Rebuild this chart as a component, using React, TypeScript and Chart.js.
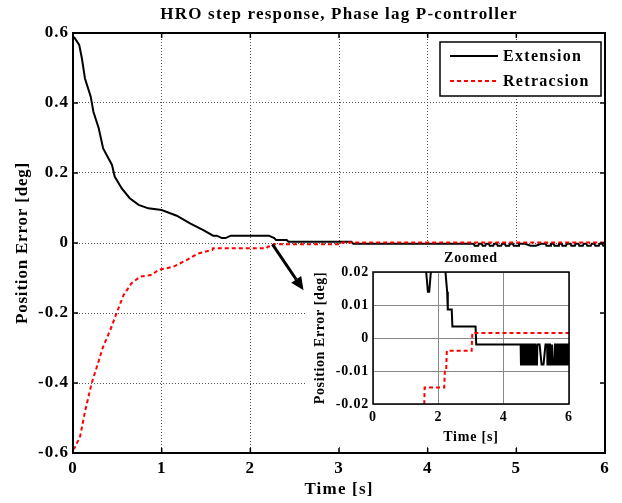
import React, { useEffect, useRef } from 'react';
import { Chart, registerables } from 'chart.js';

Chart.register(...registerables);

// ---------------- data ----------------
const extensionTime = [
  0, 0.02, 0.07, 0.1, 0.135, 0.2, 0.23, 0.29, 0.34, 0.44, 0.47, 0.55, 0.64, 0.74, 0.85, 1.0,
  1.17, 1.32, 1.47, 1.58, 1.62, 1.68, 1.72, 1.78, 2.21, 2.27, 2.29, 2.33, 2.41, 2.43, 3.14,
  3.16, 4.52, 4.53, 4.57, 4.58, 4.61, 4.62, 4.65, 4.66, 4.69, 4.7, 4.74, 4.75, 4.78, 4.79,
  4.83, 4.84, 4.87, 4.88, 4.92, 4.93, 4.96, 4.97, 5.02, 5.03, 5.1, 5.16, 5.22, 5.28, 5.33,
  5.34, 5.38, 5.39, 5.42, 5.43, 5.47, 5.48, 5.51, 5.52, 5.56, 5.57, 5.61, 5.62, 5.66, 5.67,
  5.7, 5.71, 5.75, 5.76, 5.79, 5.8, 5.84, 5.85, 5.88, 5.89, 5.93, 5.94, 5.97, 5.98, 6.0,
];
const extensionError = [
  0.59, 0.585, 0.566, 0.528, 0.47, 0.418, 0.375, 0.328, 0.27, 0.223, 0.19, 0.156, 0.128, 0.109, 0.099, 0.094,
  0.078, 0.056, 0.037, 0.021, 0.021, 0.014, 0.014, 0.021, 0.021, 0.014, 0.0086, 0.0086, 0.0086, 0.0035, 0.0035,
  -0.002, -0.002, -0.008, -0.008, -0.002, -0.002, -0.008, -0.008, -0.002, -0.002, -0.008, -0.008, -0.002, -0.002, -0.008,
  -0.008, -0.002, -0.002, -0.008, -0.008, -0.002, -0.002, -0.008, -0.008, -0.002, -0.002, -0.008, -0.008, -0.002, -0.002,
  -0.008, -0.008, -0.002, -0.002, -0.008, -0.008, -0.002, -0.002, -0.008, -0.008, -0.002, -0.002, -0.008, -0.008, -0.002,
  -0.002, -0.008, -0.008, -0.002, -0.002, -0.008, -0.008, -0.002, -0.002, -0.008, -0.008, -0.002, -0.002, -0.008, -0.008,
];

const retractionTime = [
  0, 0.02, 0.08, 0.135, 0.21, 0.27, 0.34, 0.42, 0.49, 0.57, 0.66, 0.76, 0.89, 0.96, 1.13, 1.28,
  1.4, 1.545, 1.57, 1.58, 2.18, 2.2, 2.24, 2.26, 3.02, 3.04, 6.0,
];
const retractionError = [
  -0.59, -0.585, -0.553, -0.482, -0.401, -0.353, -0.296, -0.249, -0.201, -0.149, -0.115, -0.096, -0.091, -0.077, -0.068, -0.049,
  -0.031, -0.021, -0.02, -0.015, -0.015, -0.0099, -0.0099, -0.0039, -0.0039, 0.0015, 0.0015,
];

const seriesLabels = ['Extension', 'Retracsion'];

const mainXTicks = [0, 1, 2, 3, 4, 5, 6];
const mainXLabels = ['0', '1', '2', '3', '4', '5', '6'];
const mainYTicks = [-0.6, -0.4, -0.2, 0, 0.2, 0.4, 0.6];
const mainYLabels = ['-0.6', '-0.4', '-0.2', '0', '0.2', '0.4', '0.6'];

const insetXTicks = [0, 2, 4, 6];
const insetXLabels = ['0', '2', '4', '6'];
const insetYTicks = [-0.02, -0.01, 0, 0.01, 0.02];
const insetYLabels = ['-0.02', '-0.01', '0', '0.01', '0.02'];

const mainTitle = 'HRO step response, Phase lag P-controller';
const insetTitle = 'Zoomed';
const xTitle = 'Time [s]';
const yTitle = 'Position Error [deg]';

// arrow annotation (data coordinates of main axes)
const arrowFrom = { x: 2.25, y: -0.004 };
const arrowTo = { x: 2.6, y: -0.135 };

// ---------------- helpers ----------------
const FONT = "'Liberation Serif', 'Times New Roman', serif";

const toPoints = (t: number[], v: number[]) => t.map((x, i) => ({ x, y: v[i] }));
const labelFor = (ticks: number[], labels: string[]) => (v: any) => {
  const i = ticks.findIndex((t) => Math.abs(t - Number(v)) < 1e-9);
  return i >= 0 ? labels[i] : '';
};

const spacingPlugin = {
  id: 'spacing',
  beforeUpdate(chart: any, _a: any, opts: any) {
    chart.ctx.letterSpacing = opts.value || '0px';
  },
  beforeDraw(chart: any, _a: any, opts: any) {
    chart.ctx.letterSpacing = opts.value || '0px';
  },
};

const textPlugin = {
  id: 'texts',
  afterDraw(chart: any, _a: any, opts: any) {
    const ctx = chart.ctx;
    const a = chart.chartArea;
    (opts.items || []).forEach((it: any) => {
      ctx.save();
      ctx.font = `bold ${it.size}px ${FONT}`;
      ctx.fillStyle = '#000';
      ctx.textAlign = 'center';
      ctx.textBaseline = 'middle';
      ctx.letterSpacing = it.spacing || '0px';
      const cx = it.cx === 'center' ? (a.left + a.right) / 2 : it.cx;
      const cy = it.cy === 'middle' ? (a.top + a.bottom) / 2 : it.cy;
      ctx.translate(cx, cy);
      if (it.rotate) ctx.rotate(-Math.PI / 2);
      ctx.fillText(it.text, 0, 0);
      ctx.restore();
    });
  },
};

const framePlugin = {
  id: 'frame',
  afterDatasetsDraw(chart: any, _a: any, opts: any) {
    const { ctx, chartArea: a, scales } = chart;
    ctx.save();
    ctx.setLineDash([]);
    ctx.strokeStyle = '#000';
    const L = opts.tickLen || 0;
    const seg = (x1: number, y1: number, x2: number, y2: number) => {
      ctx.beginPath();
      ctx.moveTo(x1, y1);
      ctx.lineTo(x2, y2);
      ctx.stroke();
    };
    if (L) {
      ctx.lineWidth = 1.5;
      scales.x.ticks.forEach((t: any) => {
        const p = scales.x.getPixelForValue(t.value);
        seg(p, a.bottom, p, a.bottom - L);
        seg(p, a.top, p, a.top + L);
      });
      scales.y.ticks.forEach((t: any) => {
        const p = scales.y.getPixelForValue(t.value);
        seg(a.left, p, a.left + L, p);
        seg(a.right, p, a.right - L, p);
      });
    }
    ctx.lineWidth = opts.width || 1;
    ctx.strokeRect(a.left, a.top, a.right - a.left, a.bottom - a.top);
    ctx.restore();
  },
};

const arrowPlugin = {
  id: 'arrow',
  afterDatasetsDraw(chart: any, _a: any, opts: any) {
    if (!opts.from) return;
    const { ctx, scales } = chart;
    const x1 = scales.x.getPixelForValue(opts.from.x);
    const y1 = scales.y.getPixelForValue(opts.from.y);
    const x2 = scales.x.getPixelForValue(opts.to.x);
    const y2 = scales.y.getPixelForValue(opts.to.y);
    const ang = Math.atan2(y2 - y1, x2 - x1);
    const head = 13;
    const half = 6;
    const bx = x2 - head * Math.cos(ang);
    const by = y2 - head * Math.sin(ang);
    ctx.save();
    ctx.setLineDash([]);
    ctx.strokeStyle = '#000';
    ctx.fillStyle = '#000';
    ctx.lineWidth = 3;
    ctx.beginPath();
    ctx.moveTo(x1, y1);
    ctx.lineTo(bx, by);
    ctx.stroke();
    ctx.beginPath();
    ctx.moveTo(x2, y2);
    ctx.lineTo(bx + half * Math.sin(ang), by - half * Math.cos(ang));
    ctx.lineTo(bx - half * Math.sin(ang), by + half * Math.cos(ang));
    ctx.closePath();
    ctx.fill();
    ctx.restore();
  },
};

const legendPlugin = {
  id: 'boxLegend',
  afterDraw(chart: any, _a: any, opts: any) {
    if (!opts.show) return;
    const { ctx, chartArea: a } = chart;
    const w = 161;
    const h = 54;
    const x = a.right - 4 - w;
    const y = a.top + 9;
    ctx.save();
    ctx.setLineDash([]);
    ctx.fillStyle = '#fff';
    ctx.fillRect(x, y, w, h);
    ctx.strokeStyle = '#000';
    ctx.lineWidth = 1.5;
    ctx.strokeRect(x, y, w, h);
    chart.data.datasets.forEach((ds: any, i: number) => {
      const ly = y + 14 + i * 25;
      ctx.strokeStyle = ds.borderColor;
      ctx.lineWidth = 2;
      ctx.setLineDash(ds.borderDash || []);
      ctx.beginPath();
      ctx.moveTo(x + 10, ly);
      ctx.lineTo(x + 58, ly);
      ctx.stroke();
      ctx.setLineDash([]);
      ctx.font = `bold 16px ${FONT}`;
      ctx.letterSpacing = '1.3px';
      ctx.fillStyle = '#000';
      ctx.textAlign = 'left';
      ctx.textBaseline = 'middle';
      ctx.fillText(ds.label, x + 63, ly + 1);
    });
    ctx.restore();
  },
};

function makeDatasets() {
  return [
    {
      label: seriesLabels[0],
      data: toPoints(extensionTime, extensionError),
      borderColor: '#000000',
      borderWidth: 2,
      pointRadius: 0,
      tension: 0,
      fill: false,
      order: 1,
    },
    {
      label: seriesLabels[1],
      data: toPoints(retractionTime, retractionError),
      borderColor: '#ff0000',
      borderWidth: 2,
      borderDash: [4, 3],
      pointRadius: 0,
      tension: 0,
      fill: false,
      order: 0,
    },
  ];
}

function axis(o: any) {
  return {
    type: 'linear',
    min: o.min,
    max: o.max,
    afterBuildTicks: (s: any) => {
      s.ticks = o.ticks.map((v: number) => ({ value: v }));
    },
    afterFit: (s: any) => {
      if (o.width !== undefined) s.width = o.width;
      if (o.height !== undefined) s.height = o.height;
    },
    ticks: {
      autoSkip: false,
      maxRotation: 0,
      minRotation: 0,
      padding: o.padding,
      color: '#000',
      font: { family: FONT, size: o.size, weight: 'bold' },
      callback: labelFor(o.ticks, o.labels),
    },
    grid: { color: o.gridColor, lineWidth: 1, drawTicks: false },
    border: { display: false, dash: o.dash || [] },
  };
}

export default function App() {
  const mainRef = useRef<HTMLCanvasElement | null>(null);
  const insetRef = useRef<HTMLCanvasElement | null>(null);

  useEffect(() => {
    document.body.style.margin = '0';
    const main = new Chart(mainRef.current as HTMLCanvasElement, {
      type: 'line',
      data: { datasets: makeDatasets() as any },
      options: {
        animation: false,
        responsive: false,
        devicePixelRatio: 1,
        layout: { padding: { left: 0, top: 33, right: 17, bottom: 0 } },
        scales: {
          x: axis({ min: 0, max: 6, ticks: mainXTicks, labels: mainXLabels, height: 50, padding: 5, size: 17, gridColor: '#555', dash: [1, 2] }) as any,
          y: axis({ min: -0.6, max: 0.6, ticks: mainYTicks, labels: mainYLabels, width: 73, padding: 4, size: 17, gridColor: '#555', dash: [1, 2] }) as any,
        },
        plugins: {
          legend: { display: false },
          tooltip: { enabled: false },
          spacing: { value: '1px' },
          frame: { tickLen: 5, width: 2 },
          arrow: { from: arrowFrom, to: arrowTo },
          boxLegend: { show: true },
          texts: {
            items: [
              { text: mainTitle, cx: 'center', cy: 15, size: 17, spacing: '1.2px' },
              { text: xTitle, cx: 'center', cy: 490, size: 17, spacing: '1.2px' },
              { text: yTitle, cx: 23, cy: 'middle', size: 17, spacing: '0.8px', rotate: true },
            ],
          },
        } as any,
      },
      plugins: [spacingPlugin, framePlugin, arrowPlugin, legendPlugin, textPlugin],
    });

    const inset = new Chart(insetRef.current as HTMLCanvasElement, {
      type: 'line',
      data: { datasets: makeDatasets() as any },
      options: {
        animation: false,
        responsive: false,
        devicePixelRatio: 1,
        layout: { padding: { left: 0, top: 23, right: 30, bottom: 0 } },
        scales: {
          x: axis({ min: 0, max: 6, ticks: insetXTicks, labels: insetXLabels, height: 42, padding: 5, size: 14, gridColor: '#888' }) as any,
          y: axis({ min: -0.02, max: 0.02, ticks: insetYTicks, labels: insetYLabels, width: 66, padding: 4, size: 14, gridColor: '#888' }) as any,
        },
        plugins: {
          legend: { display: false },
          tooltip: { enabled: false },
          spacing: { value: '0.8px' },
          frame: { tickLen: 0, width: 1.5 },
          boxLegend: { show: false },
          texts: {
            items: [
              { text: insetTitle, cx: 'center', cy: 9, size: 14, spacing: '0.8px' },
              { text: xTitle, cx: 'center', cy: 188, size: 14, spacing: '0.8px' },
              { text: yTitle, cx: 13, cy: 'middle', size: 14, spacing: '0.6px', rotate: true },
            ],
          },
        } as any,
      },
      plugins: [spacingPlugin, framePlugin, textPlugin],
    });

    return () => {
      main.destroy();
      inset.destroy();
    };
  }, []);

  return (
    <div style={{ position: 'relative', width: 622, height: 503, background: '#fff' }}>
      <canvas ref={mainRef} width={622} height={503} style={{ position: 'absolute', left: 0, top: 0 }} />
      <canvas
        ref={insetRef}
        width={292}
        height={197}
        style={{ position: 'absolute', left: 307, top: 249, background: '#fff' }}
      />
    </div>
  );
}
